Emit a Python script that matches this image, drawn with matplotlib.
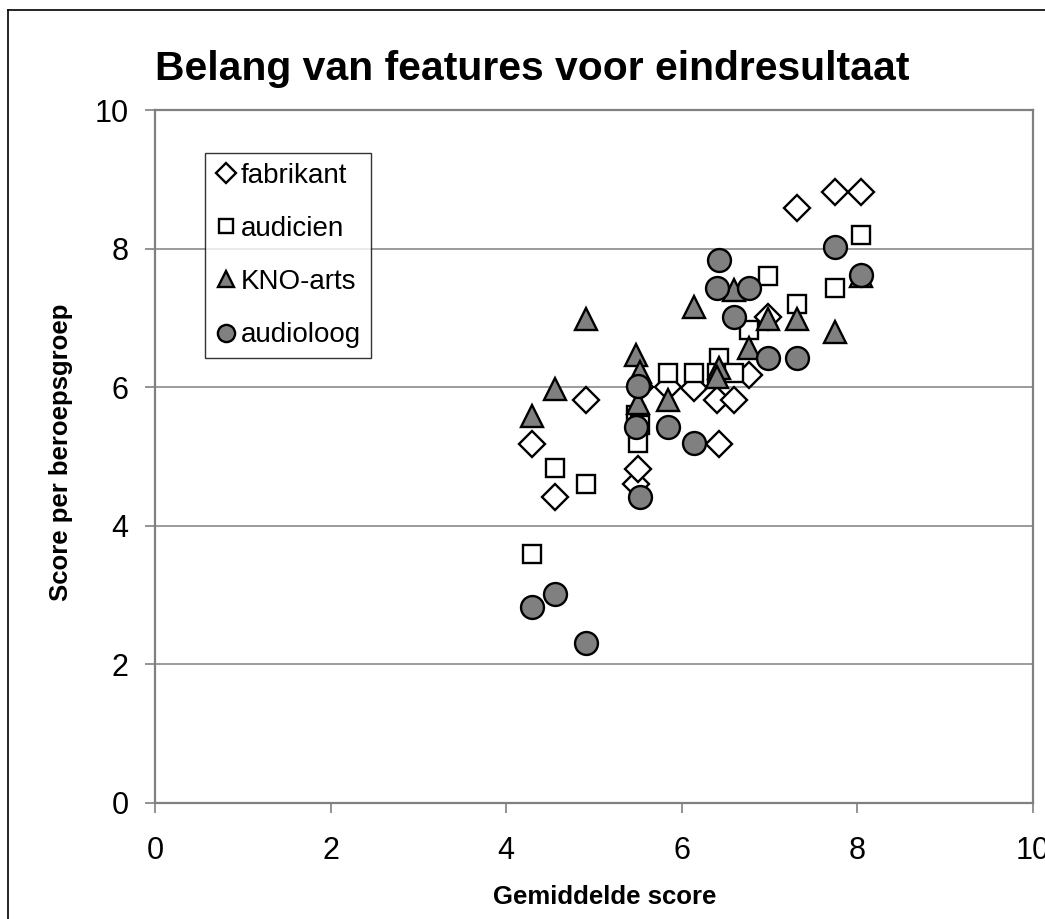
import matplotlib
matplotlib.use("Agg")
import matplotlib.pyplot as plt
from matplotlib.lines import Line2D

plt.rcParams['font.family'] = ['Liberation Sans', 'DejaVu Sans']

# Data
gemiddelde = [4.29, 4.56, 4.91, 5.48, 5.50, 5.52, 5.84, 6.14, 6.42, 6.40,
              6.60, 6.76, 6.98, 7.31, 7.75, 8.04]
fabrikant = [5.18, 4.41, 5.81, 4.60, 4.82, 6.00, 6.00, 5.99, 5.18, 5.81,
             5.81, 6.18, 7.01, 8.59, 8.82, 8.82]
audicien = [3.60, 4.83, 4.61, 5.60, 5.20, 5.45, 6.20, 6.20, 6.42, 6.20,
            6.20, 6.83, 7.60, 7.20, 7.43, 8.20]
kno_arts = [5.58, 5.98, 6.98, 6.46, 5.77, 6.22, 5.81, 7.16, 6.28, 6.15,
            7.40, 6.57, 6.98, 6.98, 6.80, 7.60]
audioloog = [2.83, 3.02, 2.31, 5.42, 6.02, 4.42, 5.42, 5.20, 7.83, 7.43,
             7.01, 7.43, 6.42, 6.42, 8.02, 7.62]
series_names = ['fabrikant', 'audicien', 'KNO-arts', 'audioloog']
x_ticks = [0, 2, 4, 6, 8, 10]
y_ticks = [0, 2, 4, 6, 8, 10]

W, H = 1045, 919
fig = plt.figure(figsize=(W / 100, H / 100), dpi=100)
ax = fig.add_axes([155 / W, 1 - 803 / H, (1033 - 155) / W, (803 - 110) / H])

gray = '#808080'
ax.plot(gemiddelde, fabrikant, linestyle='none', marker='D', ms=13.0,
        mfc='white', mec='black', mew=1.7, label=series_names[0], zorder=3)
ax.plot(gemiddelde, audicien, linestyle='none', marker='s', ms=13.0,
        mfc='white', mec='black', mew=1.7, label=series_names[1], zorder=4)
ax.plot(gemiddelde, kno_arts, linestyle='none', marker='^', ms=15.5,
        mfc=gray, mec='black', mew=1.7, label=series_names[2], zorder=5)
ax.plot(gemiddelde, audioloog, linestyle='none', marker='o', ms=16.5,
        mfc=gray, mec='black', mew=1.7, label=series_names[3], zorder=6)

ax.set_xlim(0, 10)
ax.set_ylim(0, 10)
ax.set_xticks(x_ticks)
ax.set_yticks(y_ticks)
ax.set_xticklabels([str(t) for t in x_ticks])
ax.set_yticklabels([str(t) for t in y_ticks])
ax.tick_params(axis='both', direction='out', length=7, width=1.2, color=gray,
               labelsize=22, labelcolor='black')
ax.tick_params(axis='x', pad=17)
ax.tick_params(axis='y', pad=12)

for s in ax.spines.values():
    s.set_color(gray)
    s.set_linewidth(1.6)

ax.set_axisbelow(True)
ax.yaxis.grid(True, color=gray, linewidth=1.1)
ax.xaxis.grid(False)

leg = ax.legend(loc='upper left', bbox_to_anchor=((205 - 155) / 878, (803 - 153) / 693),
                borderaxespad=0, frameon=True, fancybox=False, fontsize=20,
                handlelength=0.8, handletextpad=0.15, borderpad=0.35,
                labelspacing=0.98, markerscale=0.75)
leg.get_frame().set_edgecolor('black')
leg.get_frame().set_linewidth(1.0)
leg.set_zorder(10)

fig.text(532 / W, 1 - 80 / H, 'Belang van features voor eindresultaat',
         ha='center', va='baseline', fontsize=29.4, fontweight='bold')
fig.text(605 / W, 1 - 897 / H, 'Gemiddelde score', ha='center', va='center',
         fontsize=18.5, fontweight='bold')
fig.text(61 / W, 1 - 452 / H, 'Score per beroepsgroep', ha='center', va='center',
         rotation=90, fontsize=18.5, fontweight='bold')

# outer chart border
fig.add_artist(Line2D([8 / W, 8 / W], [0, 1 - 10 / H], transform=fig.transFigure,
                      color='black', linewidth=1.2))
fig.add_artist(Line2D([8 / W, 1], [1 - 10 / H, 1 - 10 / H], transform=fig.transFigure,
                      color='black', linewidth=1.2))

fig.savefig('out.png', dpi=100)
